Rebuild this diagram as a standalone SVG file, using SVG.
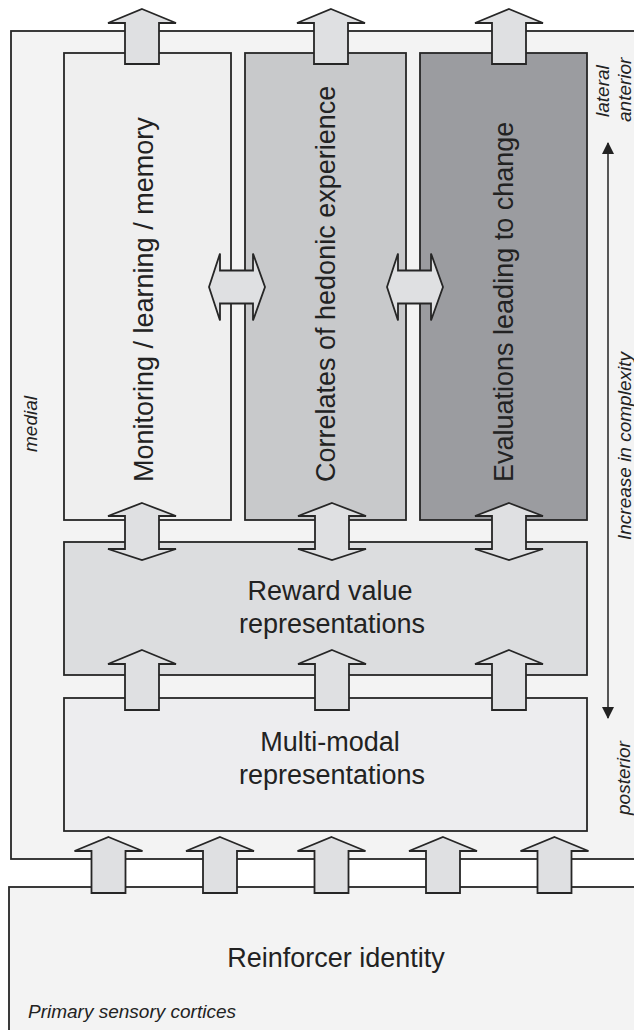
<svg xmlns="http://www.w3.org/2000/svg" width="634" height="1030" viewBox="0 0 634 1030">
<style>
.box{stroke:#262626;stroke-width:1.8}
.arr{fill:#dfe0e2;stroke:#262626;stroke-width:1.8;stroke-linejoin:miter}
.lbl{font-family:"Liberation Sans",Arial,sans-serif;font-size:27px;fill:#222}
.it{font-family:"Liberation Sans",Arial,sans-serif;font-size:19px;font-style:italic;fill:#222}
</style>
<defs>
<marker id="ah" viewBox="0 0 12 12" refX="11" refY="6" markerWidth="12" markerHeight="12" markerUnits="userSpaceOnUse" orient="auto-start-reverse">
<path d="M0,0 L12,6 L0,12 Z" fill="#222"/>
</marker>
</defs>
<rect width="634" height="1030" fill="#ffffff"/>
<g id="ofc">
<rect class="box" x="11" y="31" width="640" height="828" fill="#f3f3f3"/>
<text class="it" transform="translate(37,452) rotate(-90)">medial</text>
<text class="it" transform="translate(609,117) rotate(-90)">lateral</text>
<text class="it" transform="translate(631,122) rotate(-90)">anterior</text>
<text class="it" transform="translate(631,540) rotate(-90)">Increase in complexity</text>
<text class="it" transform="translate(630,815) rotate(-90)">posterior</text>
</g>
<g id="monitoring">
<rect class="box" x="64" y="53" width="167" height="467" fill="#efefef"/>
<text class="lbl" transform="translate(153,482) rotate(-90)">Monitoring / learning / memory</text>
</g>
<g id="hedonic">
<rect class="box" x="245" y="53" width="161" height="467" fill="#c8c9cb"/>
<text class="lbl" transform="translate(335,482) rotate(-90)">Correlates of hedonic experience</text>
</g>
<g id="evaluations">
<rect class="box" x="420" y="53" width="167" height="467" fill="#9b9ca0"/>
<text class="lbl" transform="translate(513,482) rotate(-90)">Evaluations leading to change</text>
</g>
<g id="reward">
<rect class="box" x="64" y="542" width="523" height="133" fill="#dcdddf"/>
<text class="lbl" x="330" y="600" text-anchor="middle">Reward value</text>
<text class="lbl" x="332" y="633" text-anchor="middle">representations</text>
</g>
<g id="multimodal">
<rect class="box" x="64" y="698" width="523" height="133" fill="#ededef"/>
<text class="lbl" x="330" y="751" text-anchor="middle">Multi-modal</text>
<text class="lbl" x="332" y="784" text-anchor="middle">representations</text>
</g>
<g id="reinforcer">
<rect class="box" x="9" y="887" width="640" height="160" fill="#f3f3f3"/>
<text class="lbl" x="336" y="967" text-anchor="middle">Reinforcer identity</text>
<text class="it" x="28" y="1018">Primary sensory cortices</text>
</g>
<g id="connectors">
<polygon class="arr" points="142,9 176,23 159,23 159,64 125,64 125,23 108,23"/>
<polygon class="arr" points="331,9 365,23 348,23 348,64 314,64 314,23 297,23"/>
<polygon class="arr" points="509,9 543,23 526,23 526,64 492,64 492,23 475,23"/>
<polygon class="arr" points="209,287 220,253.5 220,270.5 253,270.5 253,253.5 265,287 253,320.5 253,303.5 220,303.5 220,320.5"/>
<polygon class="arr" points="387,287 398,253.5 398,270.5 431,270.5 431,253.5 443,287 431,320.5 431,303.5 398,303.5 398,320.5"/>
<polygon class="arr" points="142,503 176,516 159,516 159,549 176,549 142,560 108,549 125,549 125,516 108,516"/>
<polygon class="arr" points="332,503 366,516 349,516 349,549 366,549 332,560 298,549 315,549 315,516 298,516"/>
<polygon class="arr" points="509,503 543,516 526,516 526,549 543,549 509,560 475,549 492,549 492,516 475,516"/>
<polygon class="arr" points="142,650 176,664 159,664 159,710 125,710 125,664 108,664"/>
<polygon class="arr" points="332,650 366,664 349,664 349,710 315,710 315,664 298,664"/>
<polygon class="arr" points="509,650 543,664 526,664 526,710 492,710 492,664 475,664"/>
<polygon class="arr" points="108.5,837 142.5,851 125.5,851 125.5,893 91.5,893 91.5,851 74.5,851"/>
<polygon class="arr" points="220,837 254,851 237,851 237,893 203,893 203,851 186,851"/>
<polygon class="arr" points="331.5,837 365.5,851 348.5,851 348.5,893 314.5,893 314.5,851 297.5,851"/>
<polygon class="arr" points="443,837 477,851 460,851 460,893 426,893 426,851 409,851"/>
<polygon class="arr" points="554.5,837 588.5,851 571.5,851 571.5,893 537.5,893 537.5,851 520.5,851"/>
<line x1="608" y1="143" x2="608" y2="718" stroke="#222" stroke-width="1.5" marker-start="url(#ah)" marker-end="url(#ah)"/>
</g>
</svg>
